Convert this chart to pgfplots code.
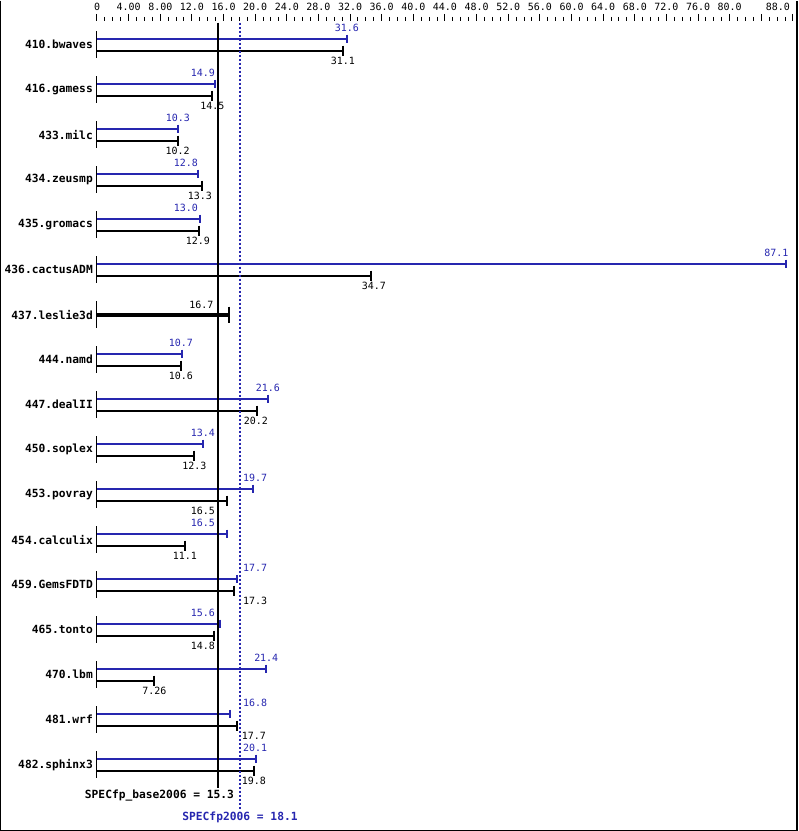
\documentclass[border=0pt]{standalone}
\usepackage{pgfplots}
\pgfplotsset{compat=1.18}
\usepackage{pgfplotstable}
\usepackage{fontspec}
\setmainfont{DejaVu Sans Mono}
\definecolor{specblue}{RGB}{38,38,175}

% y: row position (16 = top row), val: ratio, lx: label centre
\pgfplotstableread{
y val lx
16 31.6 31.6
15 14.9 13.4
14 10.3 10.24
13 12.8 11.25
12 13.0 11.25
11 87.1 85.9
9 10.7 10.6
8 21.6 21.6
7 13.4 13.4
6 19.7 19.98
5 16.5 13.4
4 17.7 19.98
3 15.6 13.4
2 21.4 21.4
1 16.8 19.98
0 20.1 19.98
}\peak

\pgfplotstableread{
y val lx
16 31.1 31.1
15 14.5 14.6
14 10.2 10.2
13 13.3 13.0
12 12.9 12.75
11 34.7 35.0
9 10.6 10.6
8 20.2 20.1
7 12.3 12.3
6 16.5 13.4
5 11.1 11.1
4 17.3 19.98
3 14.8 13.4
2 7.26 7.26
1 17.7 19.85
0 19.8 19.85
}\base

\pgfplotstableread{
y name
16 410.bwaves
15 416.gamess
14 433.milc
13 434.zeusmp
12 435.gromacs
11 436.cactusADM
10 437.leslie3d
9 444.namd
8 447.dealII
7 450.soplex
6 453.povray
5 454.calculix
4 459.GemsFDTD
3 465.tonto
2 470.lbm
1 481.wrf
0 482.sphinx3
}\names

\begin{document}
\begin{tikzpicture}
\begin{axis}[
  scale only axis, width=799bp, height=811bp,
  xmin=-12.264, xmax=88.76, ymin=-1.489, ymax=16.533,
  axis y line=none, axis x line*=top, x axis line style={draw=none},
  xtick={0,4,...,88},
  xticklabels={0,4.00,8.00,12.0,16.0,20.0,24.0,28.0,32.0,36.0,40.0,44.0,48.0,52.0,56.0,60.0,64.0,68.0,72.0,76.0,80.0,,{\makebox[0pt][r]{88.0\hspace{3bp}}}},
  minor xtick={0,1,...,88},
  tick align=outside, major tick length=7bp, minor tick length=4bp,
  tick style={black, line width=1bp},
  xticklabel style={font=\fontsize{10}{12}\selectfont, inner sep=0pt, yshift=2.5bp},
  clip=false,
  lbl/.style={only marks, mark=text, text mark={}, nodes near coords, point meta=explicit symbolic},
]
% frame
\path (axis cs:-12.264,16.978) -- (axis cs:88.76,16.978);
\draw[line width=1.5bp] (axis cs:-12.17,16.978) -- (axis cs:-12.17,-1.456) -- (axis cs:88.5,-1.456) -- (axis cs:88.5,16.978);

% row stubs at zero
\addplot[black, only marks, mark=text, text mark={}, error bars/.cd, y dir=both, y fixed=0.3, error mark=none, error bar style={line width=1bp, black}]
  table[x expr=0, y=y] {\names};

% peak bars
\addplot[specblue, only marks, mark=|, mark size=4bp, mark options={line width=2bp},
  error bars/.cd, x dir=minus, x explicit, error mark=none, error bar style={line width=2bp, specblue}]
  table[x=val, y expr=\thisrow{y}+0.1333, x error=val] {\peak};
% base bars
\addplot[black, only marks, mark=|, mark size=5bp, mark options={line width=2bp},
  error bars/.cd, x dir=minus, x explicit, error mark=none, error bar style={line width=2bp, black}]
  table[x=val, y expr=\thisrow{y}-0.1333, x error=val] {\base};
% leslie3d (base only)
\addplot[black, only marks, mark=|, mark size=8bp, mark options={line width=2bp},
  error bars/.cd, x dir=minus, x explicit, error mark=none, error bar style={line width=4bp, black}]
  coordinates {(16.7,10) -= (16.7,0)};

% reference lines
\addplot[black, line width=2bp] coordinates {(15.3,16.489) (15.3,-0.511)};
\addplot[specblue, line width=2bp, dash pattern=on 2bp off 2bp] coordinates {(18.1,16.489) (18.1,-0.978)};

% value labels
\addplot[lbl, nodes near coords style={anchor=center, inner sep=0pt, font=\fontsize{10}{12}\selectfont, text=specblue}]
  table[x=lx, y expr=\thisrow{y}+0.367, meta=val] {\peak};
\addplot[lbl, nodes near coords style={anchor=center, inner sep=0pt, font=\fontsize{10}{12}\selectfont, text=black}]
  table[x=lx, y expr=\thisrow{y}-0.367, meta=val] {\base};
\addplot[lbl, nodes near coords style={anchor=center, inner sep=0pt, font=\fontsize{10}{12}\selectfont, text=black}]
  table[meta=lab] {
x y lab
13.2 10.222 16.7
};

% benchmark names
\addplot[lbl, nodes near coords style={anchor=east, inner sep=0pt, xshift=-4bp, font=\bfseries\fontsize{11.3}{13}\selectfont, text=black}]
  table[x expr=0, y=y, meta=name] {\names};

\node[font=\bfseries\fontsize{11.3}{13}\selectfont, anchor=center, inner sep=0pt] at (axis cs:7.9,-0.689) {SPECfp\_base2006 = 15.3};
\node[font=\bfseries\fontsize{11.3}{13}\selectfont, anchor=center, inner sep=0pt, text=specblue] at (axis cs:18.08,-1.178) {SPECfp2006 = 18.1};
\end{axis}
\end{tikzpicture}
\end{document}
